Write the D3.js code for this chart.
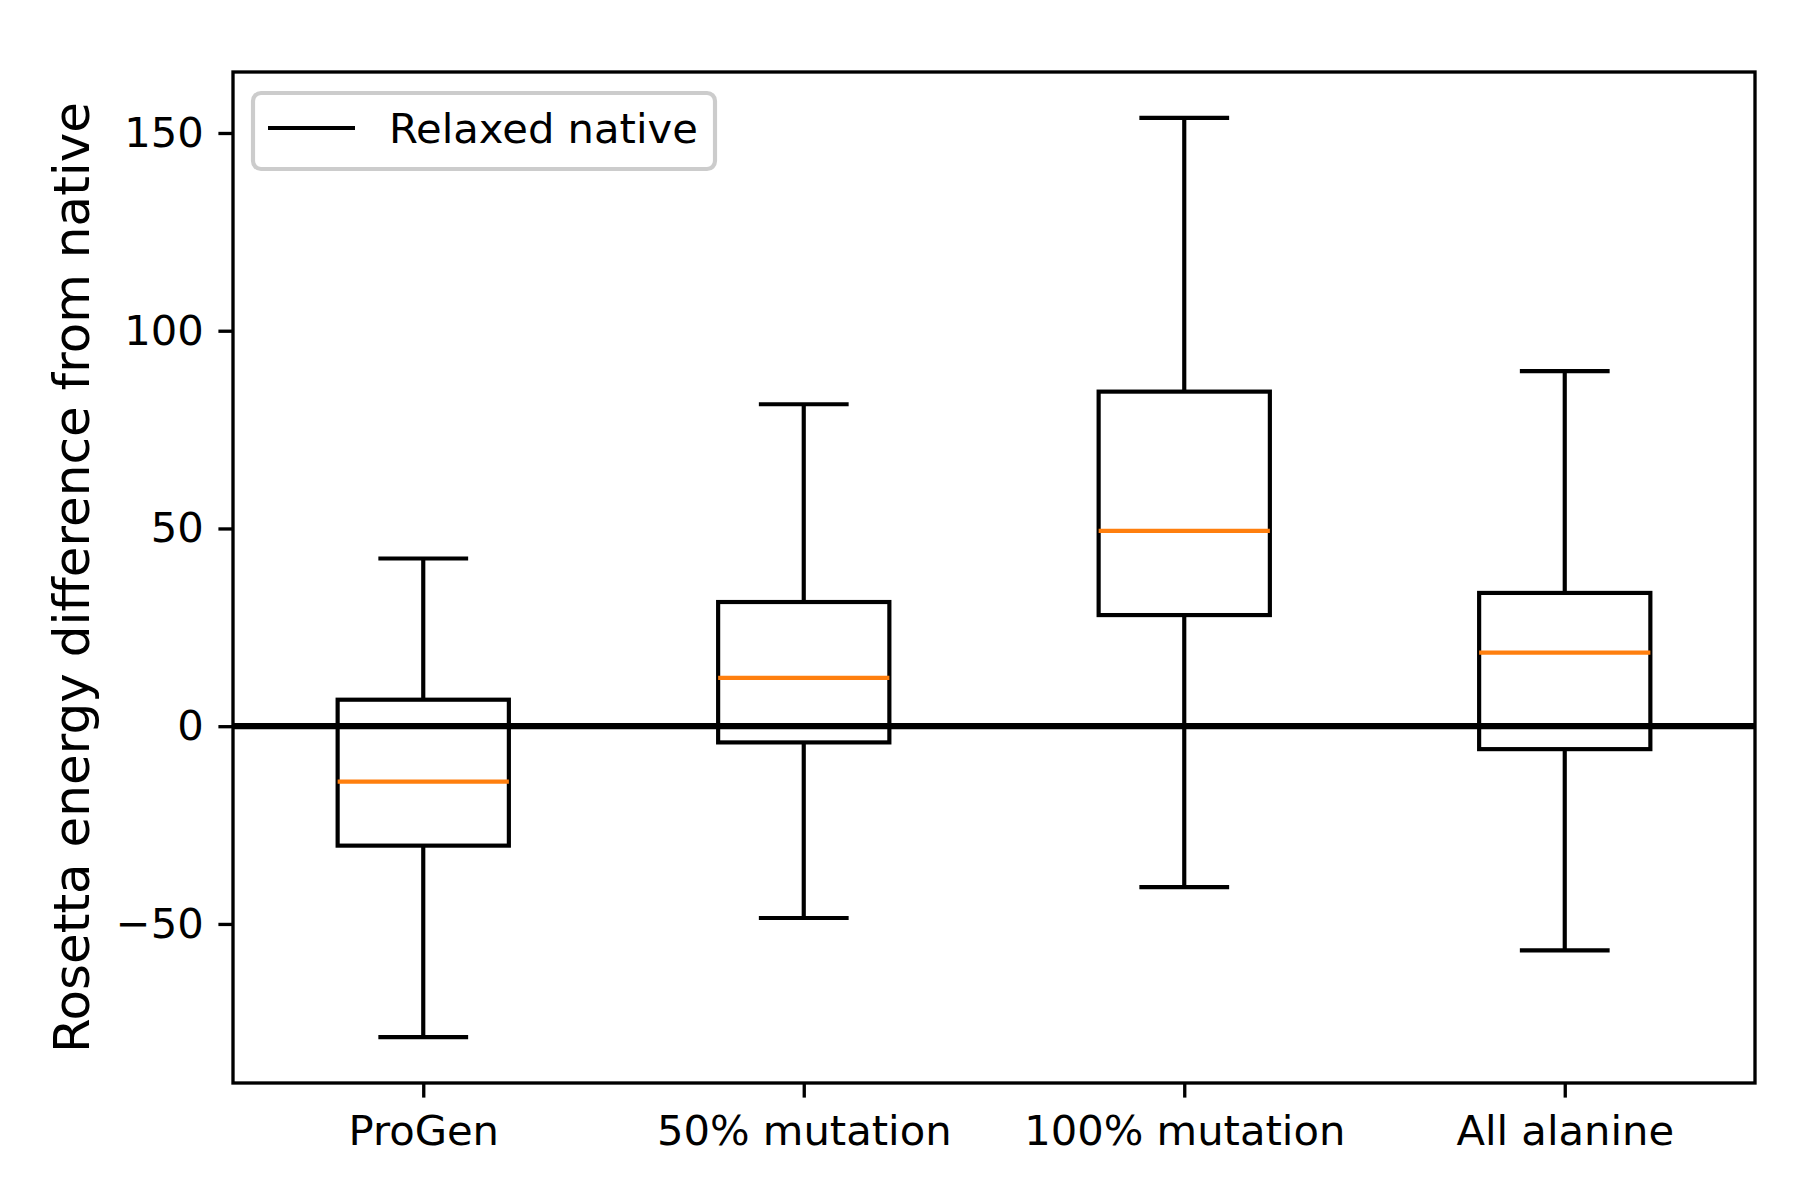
<!DOCTYPE html>
<html>
<head>
<meta charset="utf-8">
<script src="https://cdn.jsdelivr.net/npm/d3@7"></script>
<style>
  body { margin: 0; background: #fff; }
  text { font-family: 'DejaVu Sans', sans-serif; fill: #000; }
</style>
</head>
<body>
<script>
// box stats
const groups = ['ProGen', '50% mutation', '100% mutation', 'All alanine'];
const whiskerLow = [-78.6, -48.5, -40.7, -56.7];
const q1 = [-30.2, -4.1, 28.1, -5.8];
const median = [-14.0, 12.2, 49.4, 18.6];
const q3 = [6.7, 31.4, 84.6, 33.7];
const whiskerHigh = [42.4, 81.4, 153.8, 89.8];
const yTicks = [-50, 0, 50, 100, 150];
const nativeLevel = 0;

const width = 1800;
const height = 1200;
const plot = { left: 233, right: 1755, top: 72, bottom: 1083 };

const boxes = groups.map((g, i) => ({
  name: g,
  pos: i + 1,
  lo: whiskerLow[i],
  q1: q1[i],
  med: median[i],
  q3: q3[i],
  hi: whiskerHigh[i]
}));

// matplotlib style 5% padding
const yMin = d3.min(whiskerLow);
const yMax = d3.max(whiskerHigh);
const pad = (yMax - yMin) * 0.05;

const x = d3.scaleLinear()
  .domain([0.5, groups.length + 0.5])
  .range([plot.left, plot.right]);

const y = d3.scaleLinear()
  .domain([yMin - pad, yMax + pad])
  .range([plot.bottom, plot.top]);

const boxW = 0.45;
const capW = boxW / 2;
const lw = 4.17;
const fmt = d3.format('d');

const svg = d3.select('body')
  .append('svg')
  .attr('width', width)
  .attr('height', height);

svg.append('rect')
  .attr('width', width)
  .attr('height', height)
  .attr('fill', '#fff');

const g = svg.append('g').attr('class', 'boxes');

const box = g.selectAll('g.box')
  .data(boxes)
  .enter().append('g')
    .attr('class', 'box');

box.append('rect')
  .attr('x', d => x(d.pos - boxW / 2))
  .attr('y', d => y(d.q3))
  .attr('width', d => x(d.pos + boxW / 2) - x(d.pos - boxW / 2))
  .attr('height', d => y(d.q1) - y(d.q3))
  .attr('fill', 'none')
  .attr('stroke', '#000')
  .attr('stroke-width', lw);

// whiskers
box.append('line')
  .attr('x1', d => x(d.pos)).attr('x2', d => x(d.pos))
  .attr('y1', d => y(d.q1)).attr('y2', d => y(d.lo))
  .attr('stroke', '#000').attr('stroke-width', lw);

box.append('line')
  .attr('x1', d => x(d.pos)).attr('x2', d => x(d.pos))
  .attr('y1', d => y(d.q3)).attr('y2', d => y(d.hi))
  .attr('stroke', '#000').attr('stroke-width', lw);

// caps
['lo', 'hi'].forEach(k => {
  box.append('line')
    .attr('x1', d => x(d.pos - capW / 2)).attr('x2', d => x(d.pos + capW / 2))
    .attr('y1', d => y(d[k])).attr('y2', d => y(d[k]))
    .attr('stroke', '#000').attr('stroke-width', lw)
    .attr('stroke-linecap', 'square');
});

box.append('line')
  .attr('x1', d => x(d.pos - boxW / 2)).attr('x2', d => x(d.pos + boxW / 2))
  .attr('y1', d => y(d.med)).attr('y2', d => y(d.med))
  .attr('stroke', '#ff7f0e').attr('stroke-width', lw);

// relaxed native line
svg.append('line')
  .attr('x1', plot.left).attr('x2', plot.right)
  .attr('y1', y(nativeLevel)).attr('y2', y(nativeLevel))
  .attr('stroke', '#000')
  .attr('stroke-width', 6.25);

// axes
const yAxis = d3.axisLeft(y)
  .tickValues(yTicks)
  .tickFormat(fmt)
  .tickSize(14.6)
  .tickPadding(14.6);

const xAxis = d3.axisBottom(x)
  .tickValues(boxes.map(d => d.pos))
  .tickFormat((d, i) => groups[i])
  .tickSize(14.6)
  .tickPadding(18);

const ya = svg.append('g')
  .attr('transform', `translate(${plot.left},0)`)
  .call(yAxis);

const xa = svg.append('g')
  .attr('transform', `translate(0,${plot.bottom})`)
  .call(xAxis);

[ya, xa].forEach(a => {
  a.select('.domain').remove();
  a.selectAll('.tick line').attr('stroke', '#000').attr('stroke-width', 3.33);
  a.selectAll('.tick text')
    .style('font-family', "'DejaVu Sans', sans-serif")
    .style('font-size', '41.7px')
    .attr('fill', '#000');
});

svg.append('rect')
  .attr('x', plot.left)
  .attr('y', plot.top)
  .attr('width', plot.right - plot.left)
  .attr('height', plot.bottom - plot.top)
  .attr('fill', 'none')
  .attr('stroke', '#000')
  .attr('stroke-width', 3.33);

svg.append('text')
  .attr('transform', `translate(89,${(plot.top + plot.bottom) / 2}) rotate(-90)`)
  .attr('text-anchor', 'middle')
  .style('font-size', '50px')
  .text('Rosetta energy difference from native');

// legend
const legend = svg.append('g').attr('class', 'legend');

legend.append('rect')
  .attr('x', 253).attr('y', 93)
  .attr('width', 462).attr('height', 76)
  .attr('rx', 8)
  .attr('fill', '#fff').attr('fill-opacity', 0.8)
  .attr('stroke', '#cccccc').attr('stroke-width', 4.17);

legend.append('line')
  .attr('x1', 268).attr('x2', 355)
  .attr('y1', 128).attr('y2', 128)
  .attr('stroke', '#000').attr('stroke-width', 4.17);

legend.append('text')
  .attr('x', 389).attr('y', 143)
  .style('font-size', '41.7px')
  .text('Relaxed native');
</script>
</body>
</html>
